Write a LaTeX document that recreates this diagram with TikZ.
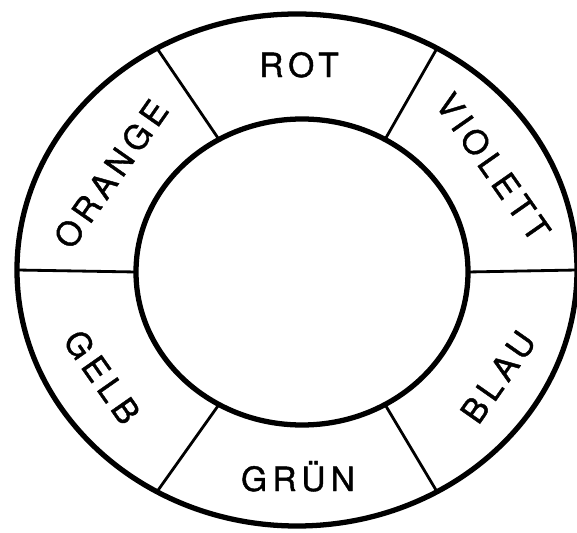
\documentclass[tikz,border=0pt]{standalone}
\usepackage{fontspec}
\setmainfont{TeX Gyre Heros}
\usetikzlibrary{calc}

\begin{document}
\begin{tikzpicture}[x=0.02cm, y=0.02cm,
  ring/.style={line width=3pt, black},
  spoke/.style={line width=1.6pt, black},
  colour/.style={font=\fontsize{19}{19}\selectfont\addfontfeature{LetterSpace=16, FakeBold=1.2},
                 inner sep=0pt, text height=13.7pt, text depth=0pt}]

  \useasboundingbox (-297,-263) rectangle (280,270);

  \coordinate (oc) at (0,0);
  \coordinate (ic) at (5,-2);

  \draw[ring] (oc) ellipse [x radius=280, y radius=256];
  \draw[ring] (ic) ellipse [x radius=166, y radius=153];

  % spokes between inner and outer ring
  \foreach \a in {0,60,...,300} {
    \coordinate (in\a)  at ($(ic)+(\a:166 and 153)$);
    \coordinate (out\a) at ($(oc)+(\a:280 and 256)$);
    \draw[spoke] (in\a) -- (out\a);
  }

  \node[colour]             (rot)     at (2,205)     {ROT};
  \node[colour, rotate=-55] (violett) at (196,103)   {VIOLETT};
  \node[colour, rotate=55]  (blau)    at (201,-107)  {BLAU};
  \node[colour]             (gruen)   at (1,-209)    {GRÜN};
  \node[colour, rotate=-55] (gelb)    at (-195,-107) {GELB};
  \node[colour, rotate=55]  (orange)  at (-186,96)   {ORANGE};

\end{tikzpicture}
\end{document}
